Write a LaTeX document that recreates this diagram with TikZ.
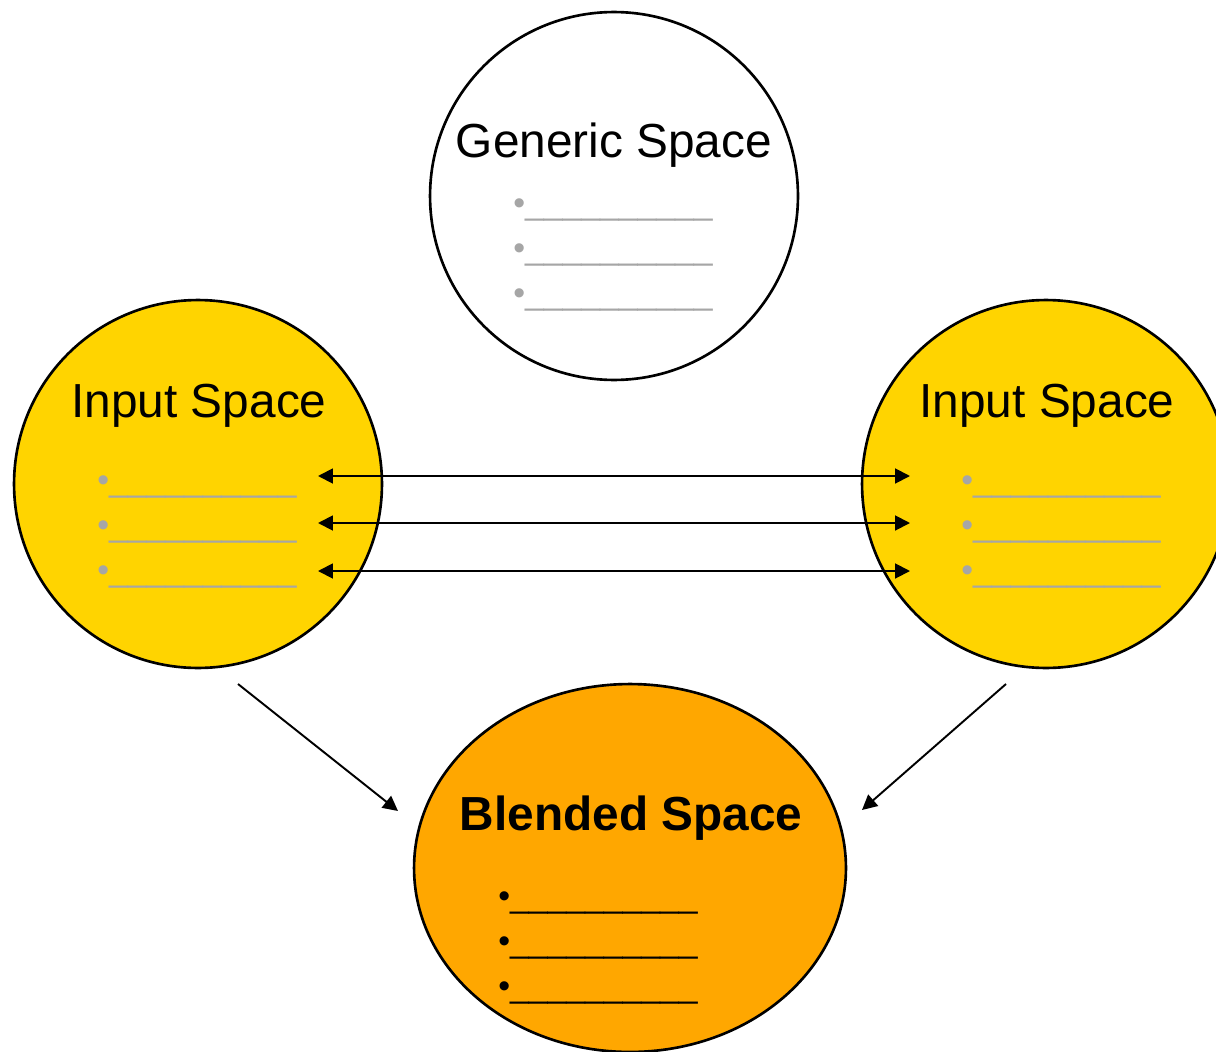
\documentclass[tikz,border=0pt]{standalone}
\usepackage{fontspec}
\setmainfont{Liberation Sans}
\usetikzlibrary{arrows.meta,shapes.geometric}

\definecolor{inputyellow}{RGB}{255,212,0}
\definecolor{blendorange}{RGB}{255,167,0}
\definecolor{bulletgrey}{RGB}{166,166,166}

\tikzset{
  space/.style={circle, draw=black, line width=1.5pt, minimum size=7.36cm, inner sep=0pt},
  blendspace/.style={ellipse, draw=black, line width=1.5pt, minimum width=8.64cm, minimum height=7.36cm, inner sep=0pt, fill=blendorange},
  title/.style={anchor=base, inner sep=0pt, font=\fontsize{27.2}{32}\selectfont},
  blank/.style={anchor=base west, inner sep=0pt, font=\fontsize{19.2}{23}\selectfont},
  link/.style={line width=1.1pt, -{Triangle[length=8.5pt,width=8.5pt]}},
  twoway/.style={line width=1.1pt, {Triangle[length=8.5pt,width=8.5pt]}-{Triangle[length=8.5pt,width=8.5pt]}}
}

% a bullet followed by ten underscores
\newcommand{\blankline}{•\_\_\_\_\_\_\_\_\_\_}

% three bullet lines: #1 name prefix, #2 x of bullet, #3 first baseline, #4 colour
\newcommand{\blanklist}[4]{%
  \node[blank, text=#4] (#1a) at (#2,#3) {\blankline};
  \node[blank, text=#4] (#1b) at (#2,#3+45) {\blankline};
  \node[blank, text=#4] (#1c) at (#2,#3+90) {\blankline};
}

\begin{document}
\begin{tikzpicture}[x=0.02cm, y=-0.02cm]
  \useasboundingbox (0,0) rectangle (1216,1051);

  % the four spaces
  \node[space, fill=white] (generic) at (614,196) {};
  \node[space, fill=inputyellow] (inputL) at (198,484) {};
  \node[space, fill=inputyellow] (inputR) at (1046,484) {};
  \node[blendspace] (blend) at (630,868) {};

  % headings
  \node[title] (genericT) at (614,157) {Generic Space};
  \node[title] (inputLT) at (199,417) {Input Space};
  \node[title] (inputRT) at (1047,417) {Input Space};
  \node[title, font=\fontsize{27.2}{32}\selectfont\bfseries] (blendT) at (631,830) {Blended Space};

  % blank bullet lines
  \blanklist{g}{513}{214}{bulletgrey}
  \blanklist{l}{97}{491}{bulletgrey}
  \blanklist{r}{961}{491}{bulletgrey}
  \blanklist{b}{498}{907}{black}

  % cross-space mappings
  \coordinate (m1L) at (318,476); \coordinate (m1R) at (910,476);
  \coordinate (m2L) at (318,523); \coordinate (m2R) at (910,523);
  \coordinate (m3L) at (318,571); \coordinate (m3R) at (910,571);
  \draw[twoway] (m1L) -- (m1R);
  \draw[twoway] (m2L) -- (m2R);
  \draw[twoway] (m3L) -- (m3R);

  % projections into the blend
  \coordinate (pL) at (238,684); \coordinate (qL) at (398,811);
  \coordinate (pR) at (1006,684); \coordinate (qR) at (862,810);
  \draw[link] (pL) -- (qL);
  \draw[link] (pR) -- (qR);
\end{tikzpicture}
\end{document}
